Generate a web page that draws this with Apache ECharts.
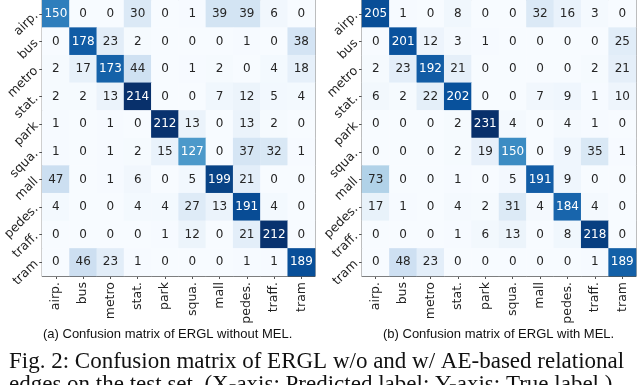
<!DOCTYPE html>
<html>
<head>
<meta charset="utf-8">
<script src="https://cdn.jsdelivr.net/npm/echarts@6/dist/echarts.min.js"></script>
<style>
  html, body { margin: 0; padding: 0; background: #fff; }
  #chart { width: 640px; height: 385px; }
</style>
</head>
<body>
<div id="chart"></div>
<script>
// class names on both axes
const classes = ['airp.', 'bus', 'metro', 'stat.', 'park', 'squa.', 'mall', 'pedes.', 'traff.', 'tram']

// rows = true label, cols = predicted label
const withoutMEL = [
  [150, 0, 0, 30, 0, 1, 39, 39, 6, 0],
  [0, 178, 23, 2, 0, 0, 0, 1, 0, 38],
  [2, 17, 173, 44, 0, 1, 2, 0, 4, 18],
  [2, 2, 13, 214, 0, 0, 7, 12, 5, 4],
  [1, 0, 1, 0, 212, 13, 0, 13, 2, 0],
  [1, 0, 1, 2, 15, 127, 0, 37, 32, 1],
  [47, 0, 1, 6, 0, 5, 199, 21, 0, 0],
  [4, 0, 0, 4, 4, 27, 13, 191, 4, 0],
  [0, 0, 0, 0, 1, 12, 0, 21, 212, 0],
  [0, 46, 23, 1, 0, 0, 0, 1, 1, 189]
]

const withMEL = [
  [205, 1, 0, 8, 0, 0, 32, 16, 3, 0],
  [0, 201, 12, 3, 1, 0, 0, 0, 0, 25],
  [2, 23, 192, 21, 0, 0, 0, 0, 2, 21],
  [6, 2, 22, 202, 0, 0, 7, 9, 1, 10],
  [0, 0, 0, 2, 231, 4, 0, 4, 1, 0],
  [0, 0, 0, 2, 19, 150, 0, 9, 35, 1],
  [73, 0, 0, 1, 0, 5, 191, 9, 0, 0],
  [17, 1, 0, 4, 2, 31, 4, 184, 4, 0],
  [0, 0, 0, 1, 6, 13, 0, 8, 218, 0],
  [0, 48, 23, 0, 0, 0, 0, 0, 1, 189]
]

const captions = ['(a) Confusion matrix of ERGL without MEL.', '(b) Confusion matrix of ERGL with MEL.']
const figLine1 = 'Fig. 2: Confusion matrix of ERGL w/o and w/ AE-based relational'
const figLine2 = 'edges on the test set. (X-axis: Predicted label; Y-axis: True label.)'

const blues = ['#f7fbff', '#deebf7', '#c6dbef', '#9ecae1', '#6baed6', '#4292c6', '#2171b5', '#08519c', '#08306b']

function toCells(m) {
  const max = Math.max(...m.flat())
  const out = []
  m.forEach((row, r) => {
    row.forEach((v, c) => {
      out.push({
        value: [c, r, v],
        label: { color: v > max / 2 ? '#fff' : '#262626' }
      })
    })
  })
  return out
}

const chart = echarts.init(document.getElementById('chart'))

const grids = [
  { left: 39, top: -3, width: 276, height: 279 },
  { left: 362, top: -3, width: 274, height: 279 }
]

function xAx(i) {
  return {
    type: 'category',
    gridIndex: i,
    data: classes,
    position: 'bottom',
    axisLine: { show: true, lineStyle: { color: '#555', width: 1 } },
    axisTick: { show: true, alignWithLabel: true, length: 3, lineStyle: { color: '#555' } },
    axisLabel: { rotate: 90, fontFamily: 'DejaVu Sans', fontSize: 12.5, color: '#222', margin: 6 },
    splitLine: { show: false }
  }
}
function yAx(i) {
  return {
    type: 'category',
    gridIndex: i,
    data: classes,
    inverse: true,
    axisLine: { show: true, lineStyle: { color: '#555', width: 1 } },
    axisTick: { show: true, alignWithLabel: true, length: 3, lineStyle: { color: '#555' } },
    axisLabel: { rotate: 45, fontFamily: 'DejaVu Sans', fontSize: 12.5, color: '#222', margin: 6 },
    splitLine: { show: false }
  }
}

const mats = [withoutMEL, withMEL]

const option = {
  animation: false,
  backgroundColor: '#fff',
  grid: grids.map(g => Object.assign({ show: true, borderColor: '#555', borderWidth: 1, backgroundColor: 'transparent' }, g)),
  xAxis: [xAx(0), xAx(1)],
  yAxis: [yAx(0), yAx(1)],
  visualMap: mats.map((m, i) => ({
    show: false,
    seriesIndex: i,
    dimension: 2,
    min: 0,
    max: Math.max(...m.flat()),
    inRange: { color: blues }
  })),
  series: mats.map((m, i) => ({
    type: 'heatmap',
    xAxisIndex: i,
    yAxisIndex: i,
    data: toCells(m),
    label: { show: true, fontFamily: 'DejaVu Sans', fontSize: 12 },
    itemStyle: { borderWidth: 0 }
  })),
  graphic: [
    {
      type: 'text', left: 43, top: 328,
      style: { text: captions[0], font: '13px "Liberation Sans"', fill: '#111' }
    },
    {
      type: 'text', left: 383, top: 328,
      style: { text: captions[1], font: '13px "Liberation Sans"', fill: '#111' }
    },
    {
      type: 'text', left: 9, top: 350,
      style: { text: figLine1, font: '23px "Liberation Serif"', fill: '#111' }
    },
    {
      type: 'text', left: 9, top: 373,
      style: { text: figLine2, font: '23px "Liberation Serif"', fill: '#111' }
    }
  ]
}

chart.setOption(option)
</script>
</body>
</html>
